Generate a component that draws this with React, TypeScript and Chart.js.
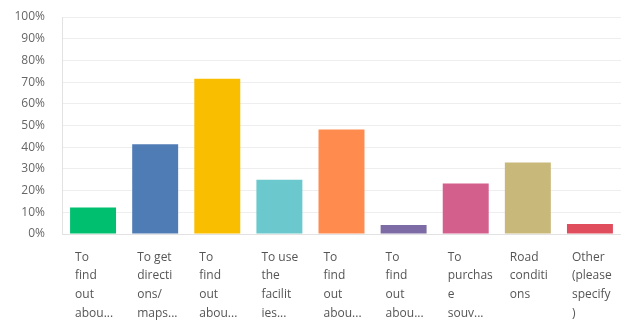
import React, { useEffect, useRef } from "react";
import { Chart, registerables } from "chart.js";

Chart.register(...registerables);

const categories: string[][] = [
  ["To", "find", "out", "abou..."],
  ["To get", "directi", "ons/", "maps..."],
  ["To", "find", "out", "abou..."],
  ["To use", "the", "facilit", "ies..."],
  ["To", "find", "out", "abou..."],
  ["To", "find", "out", "abou..."],
  ["To", "purchas", "e", "souv..."],
  ["Road", "conditi", "ons"],
  ["Other", "(please", "specify", ")"],
];

const values: number[] = [12.2, 41.4, 71.6, 25.0, 48.2, 4.2, 23.3, 33.0, 4.6];

const barColors: string[] = [
  "#00BF6F",
  "#507CB6",
  "#F9BE00",
  "#6BC8CD",
  "#FF8B4F",
  "#7D6BA5",
  "#D35F8D",
  "#C8B879",
  "#E04E5E",
];

const yTicks: number[] = [0, 10, 20, 30, 40, 50, 60, 70, 80, 90, 100];

export default function App() {
  const ref = useRef<HTMLCanvasElement | null>(null);

  useEffect(() => {
    if (!ref.current) return;
    const chart = new Chart(ref.current, {
      type: "bar",
      data: {
        labels: categories,
        datasets: [
          {
            data: values,
            backgroundColor: barColors,
            borderWidth: 0,
            barPercentage: 0.74,
            categoryPercentage: 1,
          },
        ],
      },
      options: {
        animation: false,
        responsive: false,
        maintainAspectRatio: false,
        layout: { padding: { top: 17, right: 0, left: 0, bottom: 0 } },
        plugins: {
          legend: { display: false },
          tooltip: { enabled: false },
        },
        scales: {
          x: {
            grid: { display: false, drawTicks: false },
            border: { display: true, color: "#e2e2e2", width: 1 },
            ticks: {
              align: "start",
              labelOffset: -18,
              maxRotation: 0,
              minRotation: 0,
              autoSkip: false,
              padding: 14,
              color: "#555555",
              font: { family: "'Open Sans', sans-serif", size: 12, lineHeight: 1.55 },
            },
            afterFit: (scale: any) => {
              scale.height = 86;
              scale.paddingLeft = 0;
              scale.paddingRight = 0;
            },
          },
          y: {
            min: 0,
            max: 100,
            afterBuildTicks: (scale: any) => {
              scale.ticks = yTicks.map((v) => ({ value: v }));
            },
            grid: { color: "#eeeeee", drawTicks: false },
            border: { display: true, color: "#e2e2e2", width: 1 },
            ticks: {
              padding: 17,
              color: "#666666",
              font: { family: "'Open Sans', sans-serif", size: 12 },
              callback: (v: any) => v + "%",
            },
            afterFit: (scale: any) => {
              scale.width = 62;
              scale.paddingTop = 0;
              scale.paddingBottom = 0;
            },
          },
        },
      },
    });
    return () => chart.destroy();
  }, []);

  return (
    <div style={{ position: "fixed", left: 0, top: 0, width: 621, height: 320, background: "#fff" }}>
      <canvas ref={ref} width={621} height={320} style={{ width: 621, height: 320, display: "block" }} />
    </div>
  );
}
